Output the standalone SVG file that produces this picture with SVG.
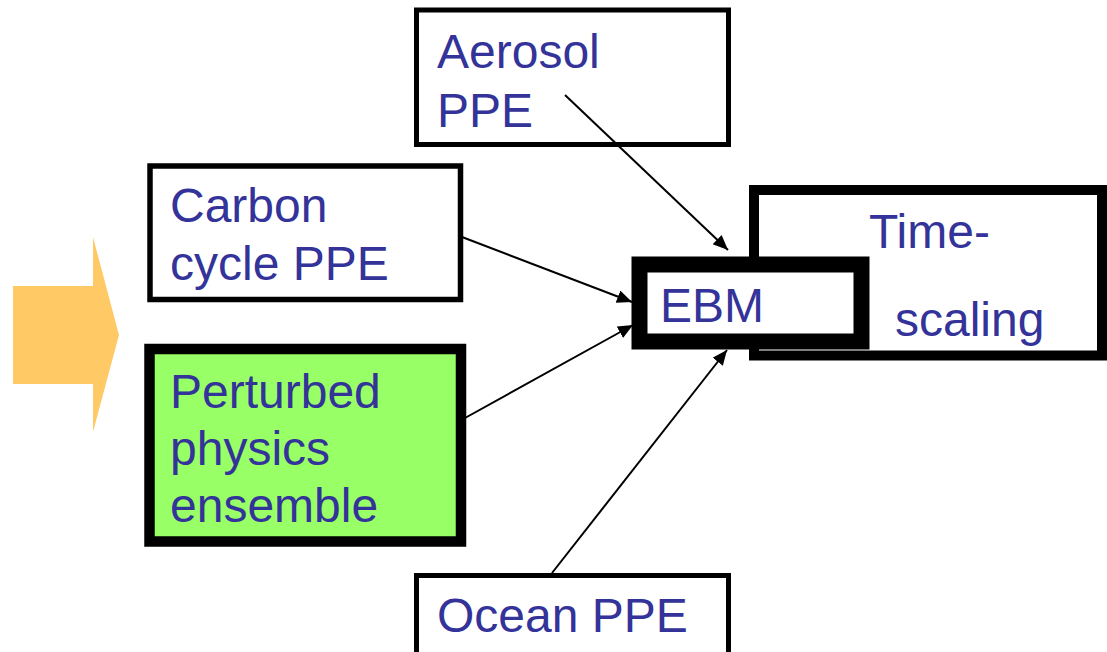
<svg xmlns="http://www.w3.org/2000/svg" width="1107" height="652" viewBox="0 0 1107 652">
<style>
.box{fill:#ffffff;stroke:#000000}
.t{font-family:"Liberation Sans",Arial,sans-serif;font-size:48px;fill:#333399}
.c{stroke:#000000;stroke-width:2;fill:none}
</style>
<defs>
<marker id="ah" markerUnits="userSpaceOnUse" markerWidth="16" markerHeight="14" refX="15" refY="6.5" orient="auto">
<path d="M0,0 L15,6.5 L0,13 z" fill="#000000"/>
</marker>
</defs>
<rect width="1107" height="652" fill="#ffffff"/>
<g id="bigArrow">
<polygon points="13,286 93,286 93,237 119,335 93,432 93,384 13,384" fill="#FFC966"/>
</g>
<g id="aerosol">
<rect class="box" x="416.5" y="10" width="312" height="134.5" stroke-width="5"/>
<text class="t" x="437" y="68">Aerosol</text>
<text class="t" x="437" y="127">PPE</text>
</g>
<g id="carbon">
<rect class="box" x="150" y="166" width="310.5" height="133.5" stroke-width="5.5"/>
<text class="t" x="170" y="222">Carbon</text>
<text class="t" x="170" y="280">cycle PPE</text>
</g>
<g id="perturbed">
<rect x="149.5" y="349" width="311.5" height="192.5" fill="#99FF66" stroke="#000000" stroke-width="10.5"/>
<text class="t" x="170" y="408">Perturbed</text>
<text class="t" x="170" y="465">physics</text>
<text class="t" x="170" y="522">ensemble</text>
</g>
<g id="ocean">
<rect class="box" x="416.5" y="575.5" width="312" height="100" stroke-width="5"/>
<text class="t" x="437" y="632">Ocean PPE</text>
</g>
<g id="timescaling">
<rect class="box" x="754" y="190" width="348" height="165.5" stroke-width="10"/>
<text class="t" x="869" y="248">Time-</text>
<text class="t" x="895" y="336">scaling</text>
</g>
<g id="ebm">
<rect class="box" x="639.5" y="264.5" width="222" height="77" stroke-width="16"/>
<text class="t" x="660" y="322">EBM</text>
</g>
<g id="connectors">
<line class="c" x1="565" y1="95" x2="728" y2="250" marker-end="url(#ah)"/>
<line class="c" x1="462" y1="237" x2="632" y2="302" marker-end="url(#ah)"/>
<line class="c" x1="465" y1="418" x2="633" y2="325" marker-end="url(#ah)"/>
<line class="c" x1="552" y1="573" x2="727" y2="350" marker-end="url(#ah)"/>
</g>
</svg>
